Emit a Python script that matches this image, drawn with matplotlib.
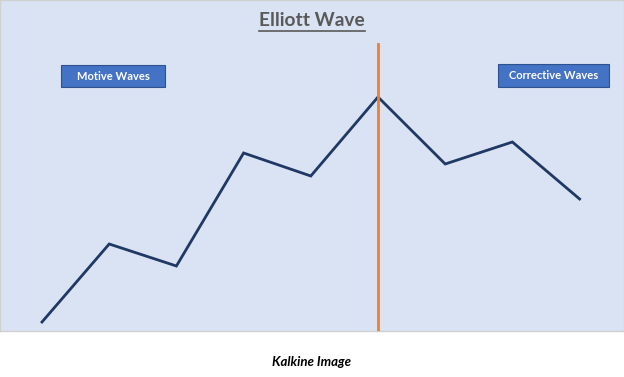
import matplotlib
matplotlib.use("Agg")
import matplotlib.pyplot as plt
from matplotlib.patches import Rectangle

# Data
wave_index = [0, 1, 2, 3, 4, 5, 6, 7, 8]
wave_price = [9, 87, 65, 178, 155, 234, 167, 189, 132]
peak_index = 5
title_text = "Elliott Wave"
left_label = "Motive Waves"
right_label = "Corrective Waves"
caption = "Kalkine Image"

W, H = 624, 377
fig = plt.figure(figsize=(W / 100, H / 100), dpi=100)
fig.patch.set_facecolor("white")

panel_h = 331
ax = fig.add_axes([0, (H - panel_h) / H, 1, panel_h / H])
ax.set_facecolor("#DAE3F3")
for s in ax.spines.values():
    s.set_color("#D0D0D0")
    s.set_linewidth(1)
ax.set_xticks([])
ax.set_yticks([])
step = 67.2
x0px = 42
ax.set_xlim(-x0px / step, (W - x0px) / step)
ax.set_ylim(0, panel_h)

ax.plot(wave_index, wave_price, color="#1F3864", lw=2, solid_joinstyle="miter", zorder=3)
ax.plot([peak_index, peak_index], [0, 287], color="#F07F2E", lw=2, zorder=4)

# Title (underlined)
font = "Lato"
t = fig.text(312 / W, 1 - 20 / H, title_text, ha="center", va="center",
             fontsize=13.8, fontweight="bold", color="#595959", family=font)
fig.canvas.draw()
bb = t.get_window_extent()
fig.add_artist(plt.Line2D([bb.x0 / W, bb.x1 / W], [(H - 31) / H, (H - 31) / H],
                          color="#595959", lw=1.2, transform=fig.transFigure))

def box(x0, y0, x1, y1, label):
    r = Rectangle((x0 / W, 1 - y1 / H), (x1 - x0) / W, (y1 - y0) / H,
                  transform=fig.transFigure, facecolor="#4472C4",
                  edgecolor="#2F528F", lw=0.8)
    fig.add_artist(r)
    fig.text((x0 + x1) / 2 / W, 1 - (y0 + y1) / 2 / H, label, ha="center",
             va="center", fontsize=8, fontweight="bold", color="white", family=font)

box(61, 65, 165, 87, left_label)
box(498, 64, 609, 87, right_label)

fig.text(312 / W, 1 - 362 / H, caption, ha="center", va="center", fontsize=9.5,
         fontweight="bold", style="italic", color="black", family=font)

fig.savefig("out.png", dpi=100)
